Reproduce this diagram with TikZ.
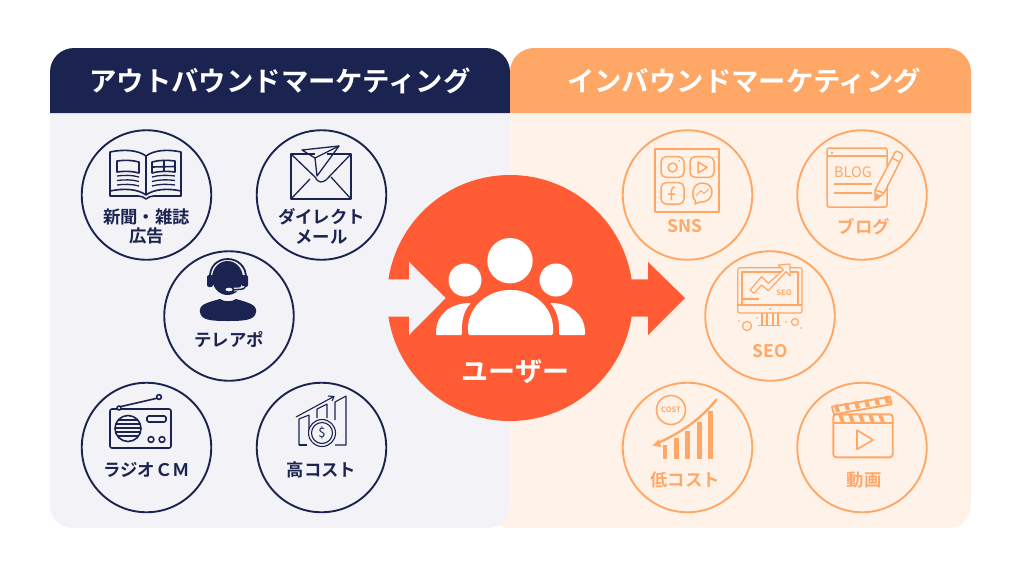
\documentclass[tikz,border=0pt]{standalone}
\usepackage{fontspec}
\newfontfamily\jp{Noto Sans CJK JP}[BoldFont={Noto Sans CJK JP Bold}]
\definecolor{navy}{HTML}{1B2350}
\definecolor{panelL}{HTML}{F3F3F7}
\definecolor{panelR}{HTML}{FFF3E9}
\definecolor{oran}{HTML}{FFA766}
\definecolor{redo}{HTML}{FF5C35}
\tikzset{
 head/.style={font=\jp\bfseries\fontsize{27.4}{30}\selectfont,text=white,inner sep=0pt},
 lab/.style={font=\jp\bfseries\fontsize{17.4}{19.5}\selectfont,inner sep=0pt,align=center},
 ringL/.style={draw=navy,line width=1.9pt,circle,minimum size=129.5pt,inner sep=0pt},
 ringR/.style={draw=oran,line width=1.9pt,circle,minimum size=129.5pt,inner sep=0pt},
 iconL/.style={draw=navy,line width=1.6pt,line join=round},
 iconR/.style={draw=oran,line width=1.5pt,line join=round},
}
\begin{document}
\begin{tikzpicture}[x=1pt,y=-1pt]
\useasboundingbox (0,0) rectangle (1024,576);
\fill[white] (0,0) rectangle (1024,576);
% panels
\fill[panelR] (488,113) -- (971,113) -- (971,506) arc[start angle=0,end angle=90,radius=22] -- (510,528) arc[start angle=90,end angle=180,radius=22] -- cycle;
\fill[panelL] (50,113) -- (510,113) -- (510,506) arc[start angle=0,end angle=90,radius=22] -- (72,528) arc[start angle=90,end angle=180,radius=22] -- cycle;
\fill[navy] (50,113) -- (50,72) arc[start angle=180,end angle=270,radius=24] -- (486,48) arc[start angle=270,end angle=360,radius=24] -- (510,113) -- cycle;
\fill[oran] (510,113) -- (510,72) arc[start angle=180,end angle=270,radius=24] -- (947,48) arc[start angle=270,end angle=360,radius=24] -- (971,113) -- cycle;
\node[head] (hl) at (280,80.5) {アウトバウンドマーケティング};
\node[head] (hr) at (744,80.5) {インバウンドマーケティング};
% rings
\node[ringL] (a) at (146.5,195) {};
\node[ringL] (b) at (321.5,195) {};
\node[ringL] (c) at (229,316) {};
\node[ringL] (d) at (146.5,447.5) {};
\node[ringL] (e) at (321.5,447.5) {};
\node[ringR] (f) at (687.5,195) {};
\node[ringR] (g) at (862,195) {};
\node[ringR] (h) at (770,316) {};
\node[ringR] (i) at (687.5,447.5) {};
\node[ringR] (j) at (862,447.5) {};
% labels
\node[lab,text=navy] (la) at (146.5,226.5) {新聞・雑誌\\広告};
\node[lab,text=navy] (lb) at (321.5,226.5) {ダイレクト\\メール};
\node[lab,text=navy] (lc) at (229,339.5) {テレアポ};
\node[lab,text=navy] (ld) at (146.5,469.5) {ラジオＣＭ};
\node[lab,text=navy] (le) at (321.5,469.5) {高コスト};
\node[lab,text=oran] (lf) at (685,226.5) {SNS};
\node[lab,text=oran] (lg) at (864,226.5) {ブログ};
\node[lab,text=oran] (lh) at (770,351) {SEO};
\node[lab,text=oran] (li) at (685,480) {低コスト};
\node[lab,text=oran] (lj) at (864,480) {動画};
% newspaper
\begin{scope}[iconL]
\draw (110,152) .. controls (124,149) and (138,150) .. (146,156) .. controls (154,150) and (168,149) .. (181,152) -- (181,196) -- (154,196) .. controls (151,196) and (148,197) .. (146,199) .. controls (144,197) and (141,196) .. (138,196) -- (110,196) -- cycle;
\draw (110,191) .. controls (124,188) and (138,189) .. (146,195) .. controls (154,189) and (168,188) .. (181,191);
\draw (146,156) -- (146,195);
\draw (117,161) .. controls (124,160) and (132,160) .. (139,162) -- (139,173) .. controls (132,171) and (124,171) .. (117,172) -- cycle;
\draw (152,162) .. controls (159,160) and (167,160) .. (175,161) -- (175,172) .. controls (167,171) and (159,171) .. (152,173) -- cycle;
\draw (164,161) -- (164,172) (152,167) -- (175,166.5);
\foreach \yy in {176,180.5,185}{\draw[line width=1.3pt] (117,\yy) .. controls (124,\yy-1) and (132,\yy-1) .. (139,\yy+1) (152,\yy+1) .. controls (159,\yy-1) and (167,\yy-1) .. (175,\yy);}
\end{scope}
% envelope
\begin{scope}[iconL,line width=1.3pt]
\draw (327,154) -- (351,154) -- (351,199) -- (291,199) -- (291,154) -- (315,154);
\draw (291,154) -- (315,177) .. controls (318,183) and (322,183) .. (326,180) -- (351,154);
\draw (291,199) -- (310,179);
\draw (351,199) -- (331,177);
\draw (302,150) -- (339,146) -- (317,176) -- (315,158) -- cycle;
\draw (315,158) -- (339,146);
\end{scope}
% operator
\fill[navy] (227.5,278) ellipse[x radius=15.5,y radius=17];
\draw[navy,line width=1.8pt] (210,280) .. controls (207,252) and (248,252) .. (246,280);
\fill[navy,rounded corners=2pt] (207,275) rectangle (213,287);
\fill[navy,rounded corners=2pt] (242,275) rectangle (248,287);
\draw[panelL,line width=3.6pt] (245,287) .. controls (244,290) and (240,289) .. (234,289.5);
\draw[navy,line width=1.5pt] (245,287) .. controls (244,290) and (240,289) .. (232,290);
\fill[panelL] (229,289.5) ellipse[x radius=3.5,y radius=1.8];
\fill[navy] (200,312) .. controls (199,305) and (205,303) .. (220,299) .. controls (224,302) and (232,302) .. (236,299) .. controls (250,303) and (257,305) .. (256,312) .. controls (255,320) and (245,321) .. (228,321) .. controls (210,321) and (201,320) .. (200,312) -- cycle;
% radio
\begin{scope}[iconL]
\draw[rounded corners=2pt] (110,409) rectangle (171,448);
\draw (119,407) -- (158,398);
\draw[fill=panelL] (159,397) circle (2.4);
\draw[fill=panelL] (119,408) circle (2);
\draw (128,428.5) circle (13);
\foreach \yy in {420,424,428,432,436}{\draw[line width=1.1pt] ({128-sqrt(169-(\yy-428.5)*(\yy-428.5))},\yy) -- ({128+sqrt(169-(\yy-428.5)*(\yy-428.5))},\yy);}
\draw[rounded corners=1.5pt] (147,416) rectangle (166,422);
\draw (151,439.5) circle (2.9);
\draw (162,439.5) circle (2.9);
\end{scope}
% high cost
\begin{scope}[iconL,line width=1.1pt]
\draw (299,445) -- (299,419) -- (309,415) -- (309,430);
\draw (317,418) -- (317,409) -- (327,404) -- (327,418);
\draw (335,420) -- (335,402) -- (346,396) -- (346,445) -- (335,445);
\draw (299,445) -- (307,445);
\draw (296,417) -- (333,397);
\draw (328,396) -- (334,396.5) -- (332,401);
\draw[fill=panelL] (322,433) circle (13.5);
\draw (322,433) circle (10.5);
\end{scope}
\node[font=\jp\fontsize{13}{14}\selectfont,text=navy,inner sep=0pt] (dol) at (322,433) {\$};
% SNS
\begin{scope}[iconR]
\draw[line width=1.9pt] (655,149) rectangle (719,212);
\draw[rounded corners=5pt] (661,156.7) rectangle (684,177.3);
\draw[rounded corners=5pt] (690,156.7) rectangle (714,177.3);
\draw[rounded corners=5pt] (661,182.7) rectangle (684,204);
\draw (672.5,167.5) circle (4.5);
\fill[oran] (679,161) circle (1);
\draw (698,162) -- (707,167.5) -- (698,173) -- cycle;
\draw (675,187) .. controls (671,187) and (671,190) .. (671.5,200) (668,194) -- (675,194);
\draw (695.5,201) .. controls (691,197) and (691.5,183) .. (702.5,183) .. controls (716,183) and (715,203) .. (700,202) -- (695,204) -- cycle;
\draw[line width=1pt] (696,196) -- (701,190.5) -- (704,193.5) -- (709,189);
\end{scope}
% blog
\begin{scope}[iconR]
\draw[rounded corners=2pt] (827,148) rectangle (887,207);
\draw (827,156) -- (887,156);
\fill[oran] (832,153) circle (1.3);
\draw (834,184) -- (872,184) (834,193) -- (872,193);
\draw[fill=panelR] (875,190) -- (895,152.5) .. controls (896,151) and (897,151) .. (899,152) -- (902,154) .. controls (903,155) and (903,156) .. (902,157.5) -- (884,193) -- (875,200.5) -- cycle;
\draw (875,190) -- (884,193);
\draw (892,158) -- (900,162);
\fill[oran] (875,200.5) -- (875.5,193) -- (881,196) -- cycle;
\end{scope}
\node[font=\jp\fontsize{14.5}{15}\selectfont,text=oran,inner sep=0pt] (blog) at (853,172) {BLOG};
% SEO monitor
\begin{scope}[iconR,line width=1.2pt]
\draw[rounded corners=2pt] (737.7,267.7) rectangle (802,313);
\draw (742,305) -- (742,272) -- (798,272) -- (798,305);
\draw (737.7,305) -- (802,305);
\draw[fill=panelR] (750,290) -- (761.7,276.7) -- (768.3,283.3) -- (783.3,270) -- (778.3,265) -- (790,264) -- (790,276) -- (786,271.7) -- (768.3,290.7) -- (761.7,285) -- (754,293.3) -- cycle;
\draw (742,299) -- (759,299);
\fill[oran] (770,309) circle (1.1);
\draw (762,313) -- (762,325.7) (767,313) -- (767,325.7) (773,313) -- (773,325.7) (778,313) -- (778,325.7);
\draw (758,325.7) -- (781,325.7);
\draw (747,326) circle (4.5);
\draw (795,322) circle (3.5);
\fill[oran] (739,321) circle (.9) (757,318) circle (.9) (786,322) circle (.9) (801,328) circle (.9);
\end{scope}
\node[font=\jp\bfseries\fontsize{7.5}{8}\selectfont,text=oran,inner sep=0pt] (seos) at (784,293) {SEO};
% low cost
\begin{scope}[iconR]
\draw[line width=1.6pt] (671,410) circle (14.5);
\fill[oran] (662.5,445) rectangle (667.3,459.3);
\fill[oran] (673.7,438) rectangle (678.7,459.3);
\fill[oran] (685.3,430.7) rectangle (690.3,459.3);
\fill[oran] (697,421.7) rectangle (702,459.3);
\fill[oran] (708.3,410.7) rectangle (713.3,459.3);
\draw[line width=2.4pt,line cap=round] (716.5,399.5) .. controls (700,420) and (680,433) .. (658,443);
\fill[oran] (652.5,445.5) -- (659,439) -- (661,447) -- cycle;
\end{scope}
\node[font=\jp\bfseries\fontsize{7.5}{8}\selectfont,text=oran,inner sep=0pt] (cost) at (671,410) {COST};
% clapper
\begin{scope}[iconR,line width=1.9pt]
\draw[rounded corners=3pt] (833.3,414.3) -- (892.7,414.3) -- (892.7,457.3) -- (833.3,457.3) -- cycle;
\draw (833.3,422.7) -- (892.7,422.7);
\draw (832,406.7) -- (890,396.7) -- (891.5,404.3) -- (834,414.3) -- cycle;
\draw[line width=1.6pt] (857,430) -- (873,440) -- (857,449.3) -- cycle;
\foreach \xx in {838,848,858,868,878}{\fill[oran] (\xx,414.3) -- (\xx+4,414.3) -- (\xx+7,422.7) -- (\xx+3,422.7) -- cycle;}
\foreach \xx/\yy in {834/405,844/403.3,854/401.6,864/400,874/398.2,884/396.5}{\fill[oran] (\xx,\yy) -- (\xx+4,\yy-.7) -- (\xx+6,\yy+6.5) -- (\xx+2,\yy+7.2) -- cycle;}
\end{scope}
% centre circle
\node[circle,fill=redo,minimum size=246pt,inner sep=0pt] (u) at (510,298) {};
% input arrow (panel colour)
\fill[panelL] (380,279.3) -- (409,279.3) -- (409,262) -- (445.7,298) -- (409,335) -- (409,316.7) -- (380,316.7) -- cycle;
% output arrow
\fill[redo] (630,279.3) -- (648,279.3) -- (648,262) -- (685,298) -- (648,335) -- (648,316.7) -- (630,316.7) -- cycle;
% people
\fill[white] (510,260.7) circle (22.7);
\fill[white] (465,280) circle (16.5);
\fill[white] (556,280) circle (16.5);
\fill[white,rounded corners=1.5pt] (468,335) -- (468,330) .. controls (468,305) and (490,290) .. (510.5,290) .. controls (531,290) and (553,305) .. (553,330) -- (553,335) -- cycle;
\fill[white,rounded corners=1pt] (436,335) -- (436,331) .. controls (437,315) and (450,303) .. (471,303) .. controls (464,310) and (461,322) .. (462,335) -- cycle;
\fill[white,rounded corners=1pt] (585,335) -- (585,331) .. controls (584,315) and (571,303) .. (550,303) .. controls (557,310) and (560,322) .. (559,335) -- cycle;
\node[font=\jp\bfseries\fontsize{27}{29}\selectfont,text=white,inner sep=0pt] (ut) at (515.5,371.5) {ユーザー};
\end{tikzpicture}
\end{document}
